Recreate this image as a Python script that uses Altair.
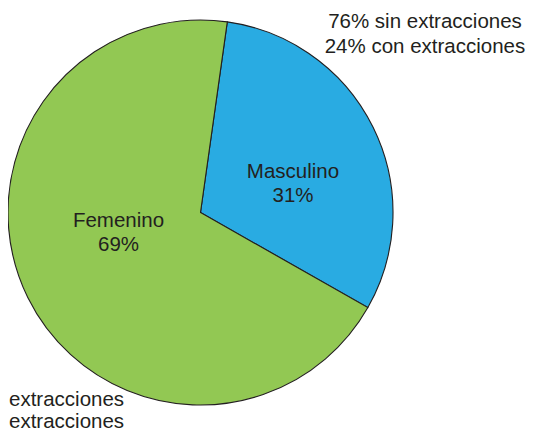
import math
import altair as alt
import pandas as pd

# Data
sexo = ["Masculino", "Femenino"]
porcentaje = [31, 69]
colores = ["#29ABE2", "#92C853"]
etiquetas = ["Masculino\n31%", "Femenino\n69%"]
nota_masculino = "76% sin extracciones\n24% con extracciones"
nota_femenino = "extracciones\nextracciones"

df = pd.DataFrame({"sexo": sexo, "pct": porcentaje, "orden": [0, 1]})

FONT = "Liberation Sans"
INK = "#231F20"
start = math.radians(8.0)

pie = alt.Chart(df).mark_arc(radius=192.5, stroke=INK, strokeWidth=1.1).encode(
    theta=alt.Theta("pct:Q", stack=True,
                    scale=alt.Scale(range=[start, start + 2 * math.pi])),
    color=alt.Color("sexo:N", scale=alt.Scale(domain=sexo, range=colores), legend=None),
    order=alt.Order("orden:Q"),
    x=alt.value(192.5),
    y=alt.value(204.5),
)

def label(text, x, y, align="center", line_height=24):
    return alt.Chart(pd.DataFrame({"t": [text]})).mark_text(
        font=FONT, fontSize=20.5, color=INK, align=align, baseline="alphabetic",
        lineBreak="\n", lineHeight=line_height,
    ).encode(text="t:N", x=alt.value(x), y=alt.value(y))

chart = alt.layer(
    pie,
    label(etiquetas[0], 285, 169.7),
    label(etiquetas[1], 110.5, 219.3),
    label(nota_masculino, 417, 20.3, line_height=25),
    label(nota_femenino, 1, 397.5, align="left", line_height=22.5),
).properties(
    width=518, height=424, padding=0, autosize=alt.AutoSizeParams(type="none")
).configure_view(stroke=None)

chart.save("out.html", embed_options={"renderer": "svg", "actions": False})
